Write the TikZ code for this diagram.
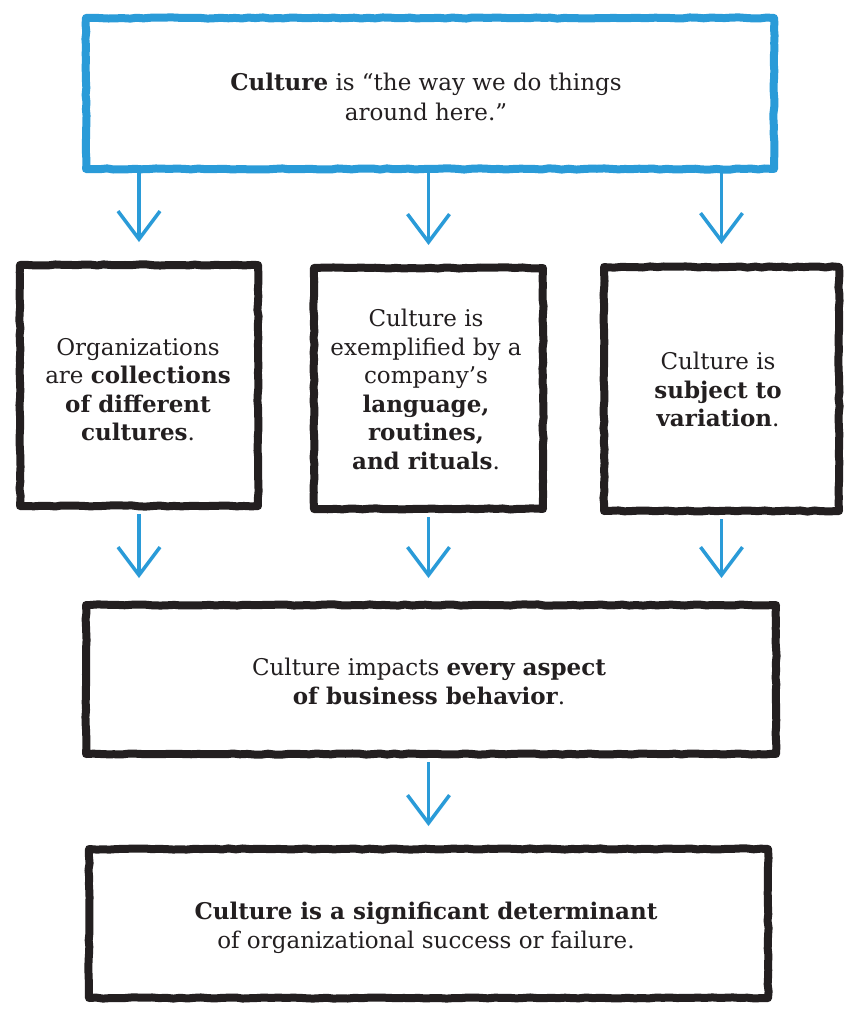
\documentclass[tikz,border=0pt]{standalone}
\usepackage{fontspec}
\setmainfont{DejaVu Serif}
\usetikzlibrary{arrows.meta,decorations.pathmorphing}
\definecolor{cblue}{RGB}{42,155,216}
\definecolor{ink}{RGB}{35,31,32}
\begin{document}
\begin{tikzpicture}[x=1pt,y=-1pt,
  box/.style={draw=ink,line width=8pt,line join=round,inner sep=0pt,
    decoration={random steps,segment length=7pt,amplitude=0.6pt},decorate},
  bluebox/.style={box,draw=cblue,line width=8pt},
  txt/.style={align=center,font=\fontsize{23}{28.5}\selectfont,text=ink,inner sep=0pt},
  conn/.style={draw=cblue,line width=3.5pt,-{Straight Barb[length=28pt,width=42pt,line width=3.5pt]}}]
\fill[white] (0,0) rectangle (850,1009);
\useasboundingbox (0,0) rectangle (850,1009);
% boxes
\node[bluebox,minimum width=688pt,minimum height=151pt] (top) at (430,93.5) {};
\node[box,minimum width=238pt,minimum height=241pt] (b1) at (139,385.5) {};
\node[box,minimum width=229pt,minimum height=241pt] (b2) at (428.5,388.5) {};
\node[box,minimum width=235pt,minimum height=244pt] (b3) at (721.5,389) {};
\node[box,minimum width=690pt,minimum height=149pt] (b4) at (431,679.5) {};
\node[box,minimum width=679pt,minimum height=149pt] (b5) at (428.5,923.5) {};
% texts
\node[txt,font=\fontsize{23}{30}\selectfont] (t0) at (426,97) {\textbf{Culture} is “the way we do things\\around here.”};
\node[txt] (t1) at (138,389.5) {Organizations\\are \textbf{collections}\\\textbf{of different}\\\textbf{cultures}.};
\node[txt] (t2) at (426,389.5) {Culture is\\exemplified by a\\company’s\\\textbf{language,}\\\textbf{routines,}\\\textbf{and rituals}.};
\node[txt] (t3) at (718,389.5) {Culture is\\\textbf{subject to}\\\textbf{variation}.};
\node[txt] (t4) at (429,681.5) {Culture impacts \textbf{every aspect}\\\textbf{of business behavior}.};
\node[txt] (t5) at (426,928) {\textbf{Culture is a significant determinant}\\of organizational success or failure.};
% connectors
\foreach \b in {b1,b2,b3}{
  \draw[conn,shorten >=19pt] (top.south -| \b.north) -- (\b.north);
  \draw[conn,shorten <=4pt,shorten >=23pt] (\b.south) -- (b4.north -| \b.south);
}
\draw[conn,shorten <=4pt,shorten >=19pt] (b4.south -| b2.south) -- (b5.north -| b2.south);
\end{tikzpicture}
\end{document}
